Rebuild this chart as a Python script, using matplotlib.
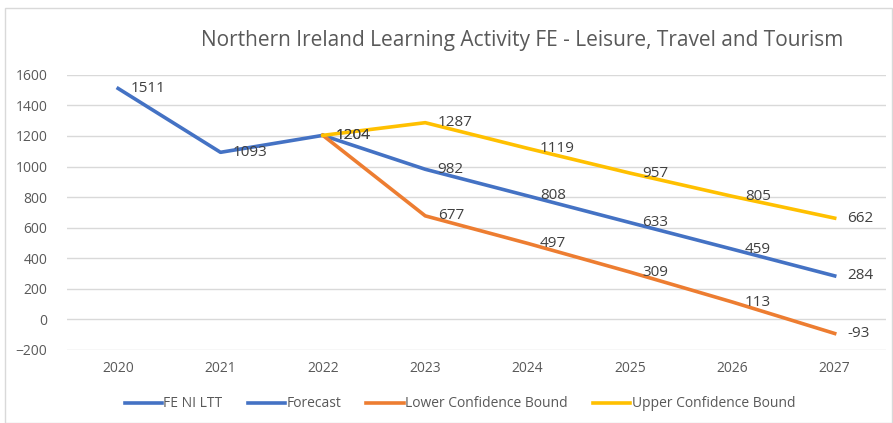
import matplotlib.pyplot as plt
from matplotlib.patches import Rectangle

years = [2020, 2021, 2022, 2023, 2024, 2025, 2026, 2027]
fe_years = [2020, 2021, 2022]
fe_values = [1511, 1093, 1204]
fc_years = [2022, 2023, 2024, 2025, 2026, 2027]
forecast = [1204, 982, 808, 633, 459, 284]
lower = [1204, 677, 497, 309, 113, -93]
upper = [1204, 1287, 1119, 957, 805, 662]

plt.rcParams['font.family'] = ['Open Sans', 'DejaVu Sans']

fig = plt.figure(figsize=(8.93, 4.23), dpi=100)
fig.patches.append(Rectangle((0.006, 0.0), 0.993, 0.98, transform=fig.transFigure,
                             fill=False, edgecolor='#D9D9D9', linewidth=1))
ax = fig.add_axes([0.075, 0.173, 0.917, 0.65])

blue = '#4472C4'
orange = '#ED7D31'
yellow = '#FFC000'
txt = '#595959'
lw = 2.6

xi = {y: i for i, y in enumerate(years)}
fx = [xi[y] for y in fe_years]
cx = [xi[y] for y in fc_years]

ax.plot(fx, fe_values, color=blue, lw=lw, label='FE NI LTT')
ax.plot(cx, forecast, color=blue, lw=lw, label='Forecast')
ax.plot(cx, lower, color=orange, lw=lw, label='Lower Confidence Bound')
ax.plot(cx, upper, color=yellow, lw=lw, label='Upper Confidence Bound')

def label(xs, vs):
    for x, v in zip(xs, vs):
        ax.annotate(str(v), (x, v), xytext=(9, 0), textcoords='offset points',
                    va='center', ha='left', fontsize=11, color='#404040')

label(fx, fe_values)
label(cx, forecast)
label(cx[1:], lower[1:])
label(cx[1:], upper[1:])

ax.set_xlim(-0.5, len(years) - 0.5)
ax.set_ylim(-200, 1600)
ax.set_yticks(range(-200, 1601, 200))
ax.set_xticks(range(len(years)))
ax.set_xticklabels([str(y) for y in years])
ax.tick_params(length=0, labelsize=10, colors=txt, pad=8)
ax.tick_params(axis='y', pad=14)
ax.grid(axis='y', color='#D9D9D9', lw=1)
ax.set_axisbelow(True)
for s in ax.spines.values():
    s.set_visible(False)

fig.text(0.585, 0.905, 'Northern Ireland Learning Activity FE - Leisure, Travel and Tourism',
         ha='center', va='center', fontsize=15, color=txt)

fig.legend(loc='center', bbox_to_anchor=(0.515, 0.045), ncol=4, frameon=False,
           fontsize=10, labelcolor=txt, handlelength=2.7, handletextpad=0.1,
           columnspacing=1.8)

fig.savefig('out.png', dpi=100)
